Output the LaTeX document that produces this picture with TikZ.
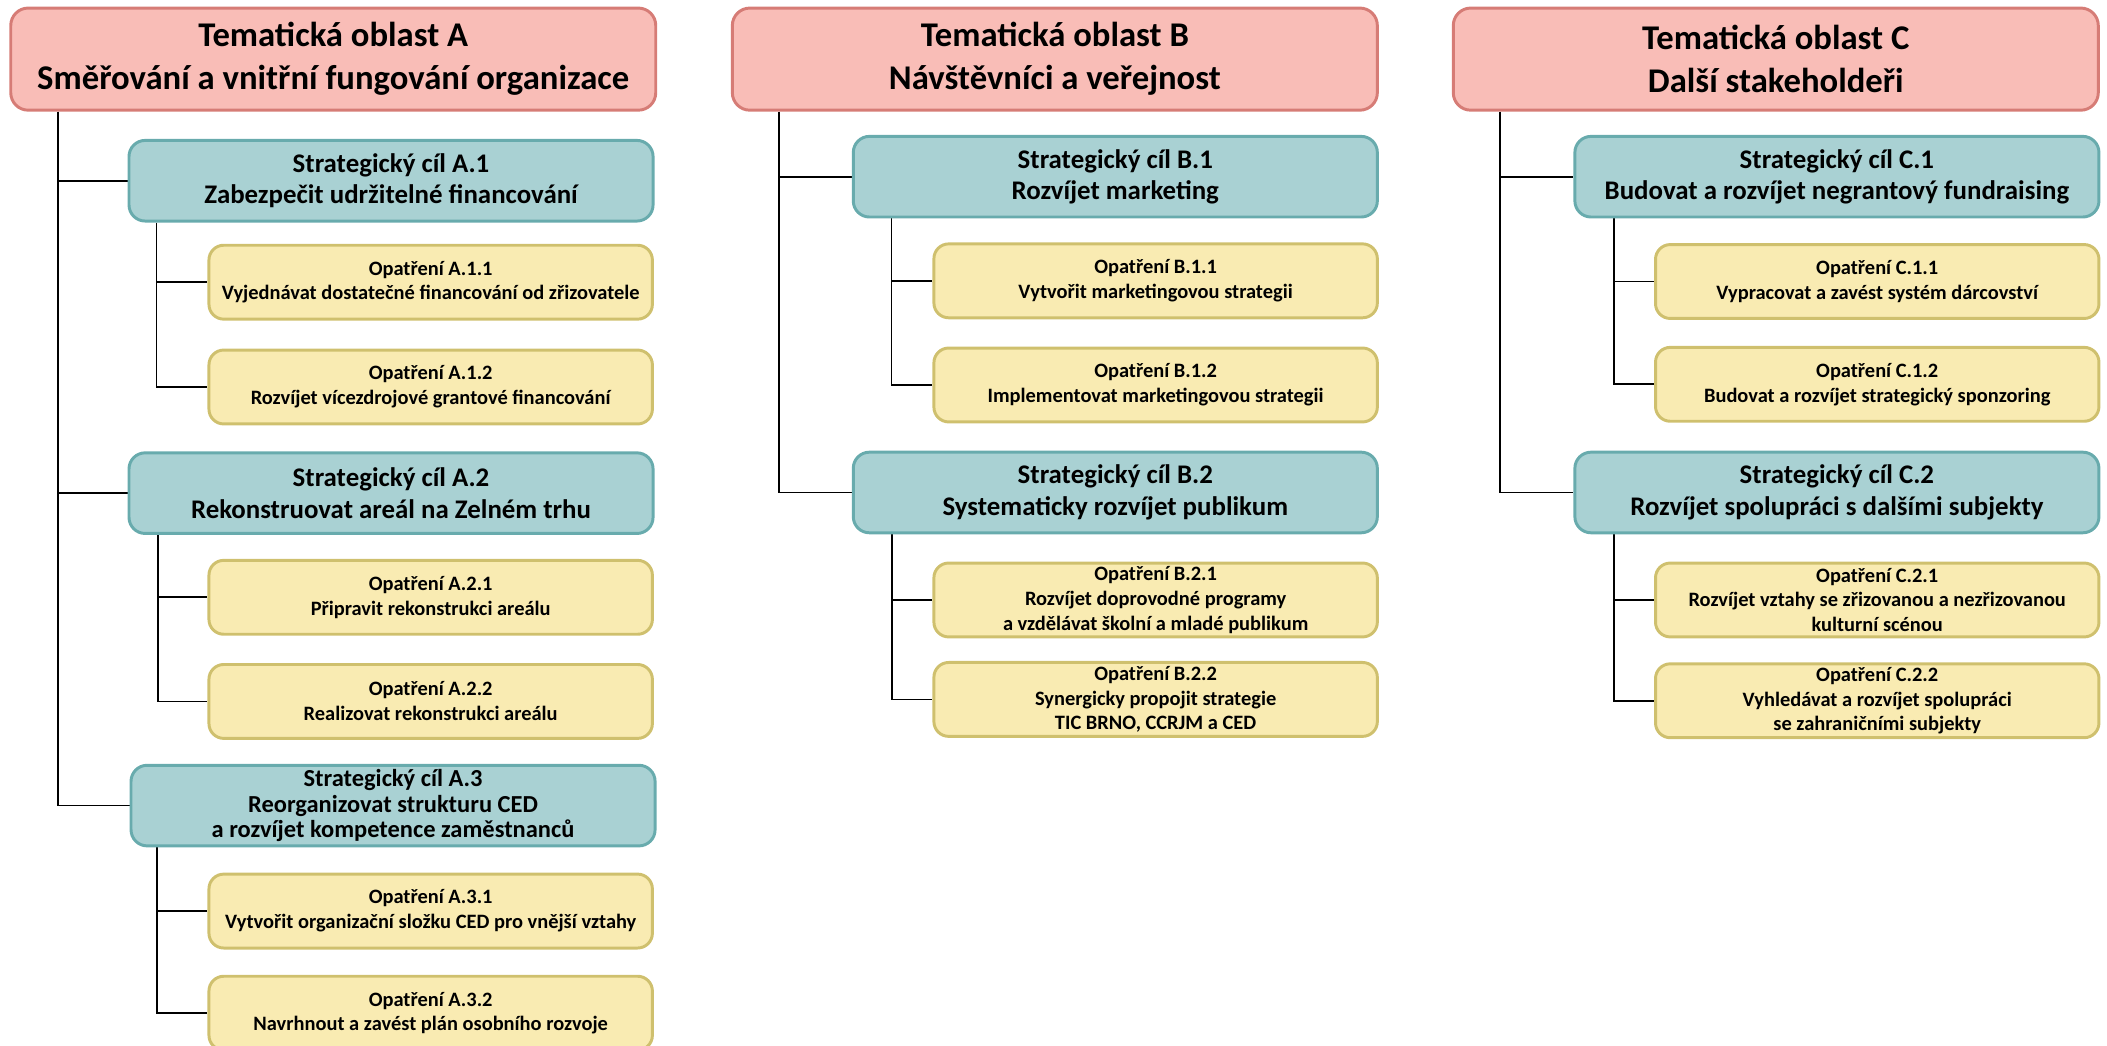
\documentclass[tikz,border=0pt]{standalone}
\usepackage{fontspec}
\setmainfont{Carlito}
\definecolor{hdrF}{RGB}{249,189,183}
\definecolor{hdrB}{RGB}{214,124,118}
\definecolor{goalF}{RGB}{169,209,211}
\definecolor{goalB}{RGB}{104,171,173}
\definecolor{actF}{RGB}{249,235,178}
\definecolor{actB}{RGB}{207,192,110}
\newcommand\hdrfont{\bfseries\fontsize{25.8}{32}\selectfont}
\newcommand\goalfont{\bfseries\fontsize{20}{23.5}\selectfont}
\newcommand\goalsmallfont{\bfseries\fontsize{18.2}{19}\selectfont}
\newcommand\actfont{\bfseries\fontsize{15.2}{18.5}\selectfont}
\pgfdeclarelayer{bg}
\pgfsetlayers{bg,main}
\tikzset{
  box/.style={align=center, inner sep=0pt, text=black},
  hdr/.style={box, draw=hdrB, fill=hdrF, line width=2.2pt, rounded corners=13pt,
    minimum width=480pt, minimum height=76pt, font=\hdrfont},
  goal/.style={box, draw=goalB, fill=goalF, line width=2.2pt, rounded corners=12pt,
    minimum width=390pt, minimum height=60pt, font=\goalfont},
  act/.style={box, draw=actB, fill=actF, line width=2.2pt, rounded corners=11pt,
    minimum width=330pt, minimum height=55pt, font=\actfont},
  conn/.style={line width=1.3pt, black}
}
\begin{document}
\begin{tikzpicture}[x=1pt, y=-1pt]
\useasboundingbox (0,0) rectangle (1568,778);
\clip (0,0) rectangle (1568,778);
% Column A
\node[hdr] (A) at (248,44) {Tematická oblast A\\Směřování a vnitřní fungování organizace};
\node[goal] (A1) at (291,134.5) {Strategický cíl A.1\\Zabezpečit udržitelné financování};
\node[act] (A11) at (320.5,210) {Opatření A.1.1\\Vyjednávat dostatečné financování od zřizovatele};
\node[act] (A12) at (320.5,288) {Opatření A.1.2\\Rozvíjet vícezdrojové grantové financování};
\node[goal] (A2) at (291,367) {Strategický cíl A.2\\Rekonstruovat areál na Zelném trhu};
\node[act] (A21) at (320.5,444.5) {Opatření A.2.1\\Připravit rekonstrukci areálu};
\node[act] (A22) at (320.5,522) {Opatření A.2.2\\Realizovat rekonstrukci areálu};
\node[goal, font=\goalsmallfont] (A3) at (292.5,599.5) {Strategický cíl A.3\\Reorganizovat strukturu CED\\a rozvíjet kompetence zaměstnanců};
\node[act] (A31) at (320.5,678) {Opatření A.3.1\\Vytvořit organizační složku CED pro vnější vztahy};
\node[act] (A32) at (320.5,754) {Opatření A.3.2\\Navrhnout a zavést plán osobního rozvoje};
% Column B
\node[hdr] (B) at (785,44) {Tematická oblast B\\Návštěvníci a veřejnost};
\node[goal] (B1) at (830,131.5) {Strategický cíl B.1\\Rozvíjet marketing};
\node[act] (B11) at (860,209) {Opatření B.1.1\\Vytvořit marketingovou strategii};
\node[act] (B12) at (860,286.5) {Opatření B.1.2\\Implementovat marketingovou strategii};
\node[goal] (B2) at (830,366.5) {Strategický cíl B.2\\Systematicky rozvíjet publikum};
\node[act] (B21) at (860,446.5) {Opatření B.2.1\\Rozvíjet doprovodné programy\\a vzdělávat školní a mladé publikum};
\node[act] (B22) at (860,520.5) {Opatření B.2.2\\Synergicky propojit strategie\\TIC BRNO, CCRJM a CED};
% Column C
\node[hdr] (C) at (1321.5,44) {Tematická oblast C\\Další stakeholdeři};
\node[goal] (C1) at (1367,131.5) {Strategický cíl C.1\\Budovat a rozvíjet negrantový fundraising};
\node[act] (C11) at (1397,209.5) {Opatření C.1.1\\Vypracovat a zavést systém dárcovství};
\node[act] (C12) at (1397,286) {Opatření C.1.2\\Budovat a rozvíjet strategický sponzoring};
\node[goal] (C2) at (1367,366.5) {Strategický cíl C.2\\Rozvíjet spolupráci s dalšími subjekty};
\node[act] (C21) at (1397,446.5) {Opatření C.2.1\\Rozvíjet vztahy se zřizovanou a nezřizovanou\\kulturní scénou};
\node[act] (C22) at (1397,521.5) {Opatření C.2.2\\Vyhledávat a rozvíjet spolupráci\\se zahraničními subjekty};
% trunk x positions
\coordinate (tA) at (43,0);
\coordinate (sA1) at (116.5,0);
\coordinate (sA2) at (117.5,0);
\coordinate (sA3) at (117,0);
\coordinate (tB) at (579.5,0);
\coordinate (sB1) at (663.5,0);
\coordinate (sB2) at (664,0);
\coordinate (tC) at (1116,0);
\coordinate (sC1) at (1201,0);
\coordinate (sC2) at (1201,0);
\begin{pgfonlayer}{bg}
\foreach \g in {A1,A2,A3} \draw[conn] (tA |- A.south) |- (\g.west);
\foreach \g in {B1,B2} \draw[conn] (tB |- B.south) |- (\g.west);
\foreach \g in {C1,C2} \draw[conn] (tC |- C.south) |- (\g.west);
\foreach \p/\c in {A1/A11,A1/A12,A2/A21,A2/A22,A3/A31,A3/A32,B1/B11,B1/B12,B2/B21,B2/B22,C1/C11,C1/C12,C2/C21,C2/C22}
  \draw[conn] (s\p |- \p.south) |- (\c.west);
\end{pgfonlayer}
\end{tikzpicture}
\end{document}
